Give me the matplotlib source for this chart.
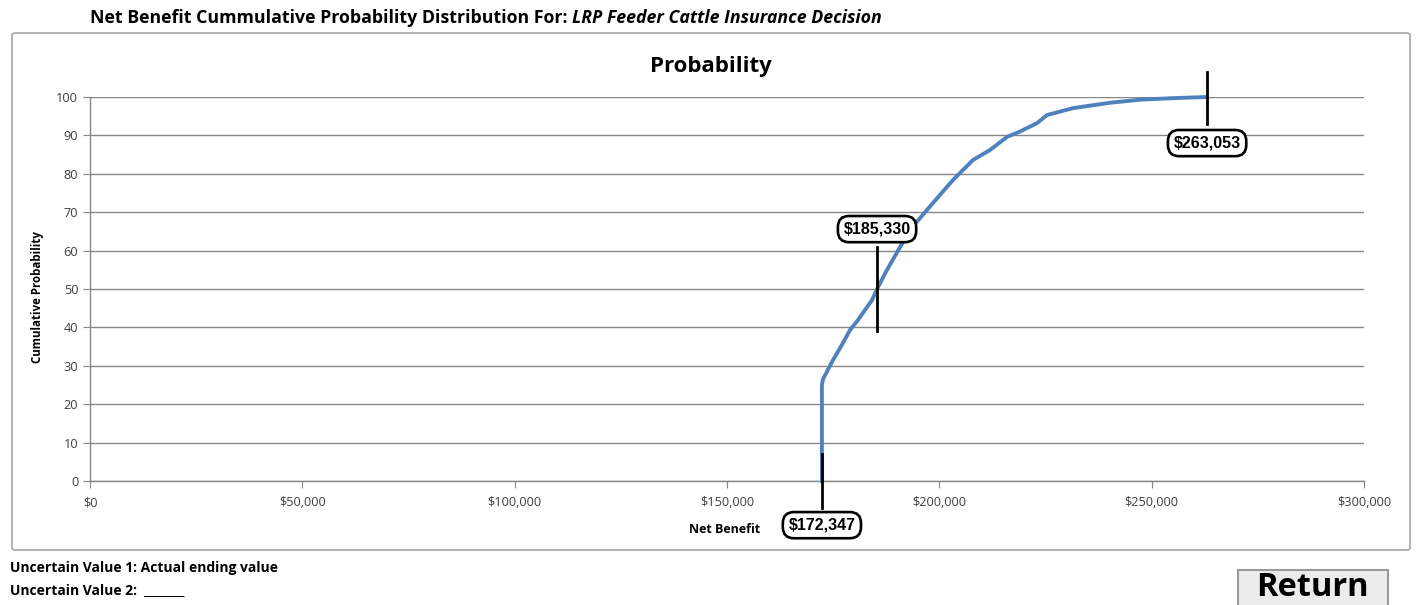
import matplotlib
matplotlib.use("Agg")
import matplotlib.pyplot as plt
from matplotlib.patches import FancyBboxPatch, Rectangle
from matplotlib.ticker import FuncFormatter

# ---- data ----
net_benefit = [172347, 172347, 172600, 174960, 177077, 178965, 180609, 184145,
               185330, 187440, 190737, 193560, 197095, 200155, 203218, 207928,
               211930, 215934, 218994, 222998, 225354, 231475, 240188, 247250,
               255023, 263053]
cum_prob = [0, 25.0, 26.5, 31.5, 35.5, 39.3, 41.6, 47.1,
            50.0, 54.5, 60.9, 66.0, 70.6, 74.5, 78.4, 83.6,
            86.2, 89.6, 91.0, 93.2, 95.3, 97.1, 98.5, 99.3,
            99.7, 100]
x_ticks = [0, 50000, 100000, 150000, 200000, 250000, 300000]
y_ticks = [0, 10, 20, 30, 40, 50, 60, 70, 80, 90, 100]
marker_values = [172347, 185330, 263053]
marker_labels = ["$172,347", "$185,330", "$263,053"]
marker_probs = [0, 50, 100]

W, H = 1416, 605
fig = plt.figure(figsize=(W / 100, H / 100), dpi=100)
fig.patch.set_facecolor("white")

FONT = ["Open Sans", "DejaVu Sans"]
LAB = ["Liberation Sans", "DejaVu Sans"]

def fx(px):
    return px / W

def fy(py):
    return 1 - py / H

# outer chart border
fig.add_artist(FancyBboxPatch((fx(12), fy(550)), fx(1410) - fx(12), fy(33) - fy(550),
                              boxstyle="round,pad=0,rounding_size=0.003",
                              transform=fig.transFigure, fill=False,
                              edgecolor="#a6a6a6", linewidth=1.2))

ax = fig.add_axes([fx(90), fy(481), fx(1364) - fx(90), fy(97) - fy(481)])
ax.set_xlim(0, 300000)
ax.set_ylim(0, 100)
ax.set_xticks(x_ticks)
ax.set_yticks(y_ticks)
ax.xaxis.set_major_formatter(FuncFormatter(lambda v, p: "${:,.0f}".format(v)))
for s in ["top", "right"]:
    ax.spines[s].set_visible(False)
for s in ["left", "bottom"]:
    ax.spines[s].set_color("#868686")
    ax.spines[s].set_linewidth(1.0)
ax.grid(axis="y", color="#868686", linewidth=1.0)
ax.set_axisbelow(True)
ax.tick_params(axis="both", direction="out", length=5, color="#868686",
               labelsize=9.2, labelcolor="#404040")
ax.tick_params(axis="x", pad=6)
for lab in ax.get_xticklabels() + ax.get_yticklabels():
    lab.set_family(FONT)

ax.plot(net_benefit, cum_prob, color="#4f81bd", linewidth=2.8, clip_on=False,
        solid_joinstyle="round", zorder=3)

ax.set_title("Probability", fontsize=16, fontweight="bold", family=FONT, pad=18,
             x=(711 - 90) / 1274)
ax.set_xlabel("Net Benefit", fontsize=9, fontweight="bold", family=FONT, labelpad=10)
ax.xaxis.set_label_coords((725 - 90) / (1364 - 90), -(523 - 481) / 384)
ax.set_ylabel("Cumulative Probability", fontsize=8.3, fontweight="bold", family=FONT)
ax.yaxis.set_label_coords(-(90 - 44) / 1274, 0.48)

bbox = dict(boxstyle="round,pad=0.35,rounding_size=0.7", fc="white", ec="black", lw=1.9)
label_kw = dict(ha="center", va="center", fontsize=11.5, fontweight="bold", family=LAB,
                bbox=bbox, zorder=5, clip_on=False)
# marker 1 (min)
ax.plot([marker_values[0]] * 2, [marker_probs[0] - 7, marker_probs[0] + 7], color="black",
        lw=2, clip_on=False, zorder=4)
ax.text(marker_values[0], marker_probs[0] - 11.5, marker_labels[0], **label_kw)
# marker 2 (median)
ax.plot([marker_values[1]] * 2, [marker_probs[1] - 11, marker_probs[1] + 11], color="black",
        lw=2, clip_on=False, zorder=4)
ax.text(marker_values[1], marker_probs[1] + 15.6, marker_labels[1], **label_kw)
# marker 3 (max)
ax.plot([marker_values[2]] * 2, [marker_probs[2] - 7, marker_probs[2] + 6.5], color="black",
        lw=2, clip_on=False, zorder=4)
ax.text(marker_values[2], marker_probs[2] - 12, marker_labels[2], **label_kw)

# header
t1 = fig.text(fx(90), fy(18), "Net Benefit Cummulative Probability Distribution For: ",
              fontsize=12.8, fontweight="bold", family=FONT, va="center", ha="left")
fig.canvas.draw()
bb = t1.get_window_extent()
fig.text(bb.x1 / W, fy(18), "LRP Feeder Cattle Insurance Decision", fontsize=12.8,
         fontweight="bold", style="italic", family=FONT, va="center", ha="left")

# footer
fig.text(fx(10), fy(568), "Uncertain Value 1: Actual ending value", fontsize=10,
         fontweight="bold", family=FONT, va="center", ha="left")
fig.text(fx(10), fy(590), "Uncertain Value 2:  _______", fontsize=10,
         fontweight="bold", family=FONT, va="center", ha="left")

# Return button
fig.add_artist(Rectangle((fx(1238), fy(612)), fx(1388) - fx(1238), fy(570) - fy(612),
                         transform=fig.transFigure, facecolor="#ececec",
                         edgecolor="#9a9a9a", linewidth=1.5))
fig.text(fx(1312), fy(588), "Return", fontsize=23.5, fontweight="bold", family=FONT,
         ha="center", va="center")

fig.savefig("out.png", dpi=100)
